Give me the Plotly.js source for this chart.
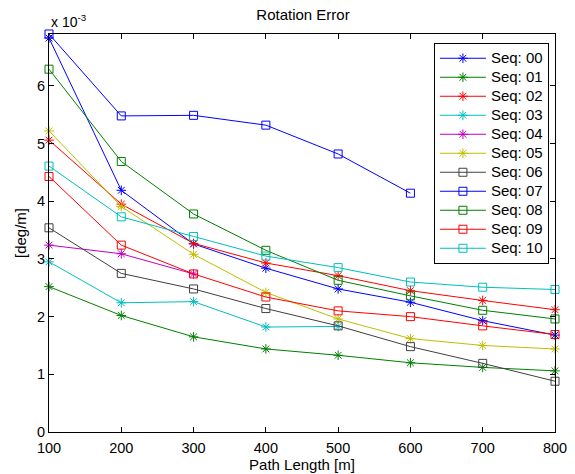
<!DOCTYPE html>
<html>
<head>
<meta charset="utf-8">
<script src="https://cdn.plot.ly/plotly-3.0.1.min.js"></script>
<style>html,body{margin:0;padding:0;background:#fff;}#chart{width:575px;height:474px;}</style>
</head>
<body>
<div id="chart"></div>
<script>
// Path lengths [m]
const pathLength = [100, 200, 300, 400, 500, 600, 700, 800];
// Rotation error values, in units of 1e-3 deg/m
const seq00 = [6.83, 4.19, 3.26, 2.84, 2.48, 2.25, 1.93, 1.68];
const seq01 = [2.52, 2.02, 1.65, 1.44, 1.33, 1.20, 1.12, 1.06];
const seq02 = [5.06, 3.95, 3.27, 2.93, 2.71, 2.45, 2.28, 2.12];
const seq03 = [2.95, 2.24, 2.26, 1.82, 1.83];
const seq04 = [3.24, 3.09, 2.74];
const seq05 = [5.22, 3.91, 3.08, 2.42, 1.96, 1.62, 1.50, 1.44];
const seq06 = [3.54, 2.75, 2.48, 2.14, 1.84, 1.48, 1.19, 0.88];
const seq07 = [6.90, 5.48, 5.49, 5.32, 4.82, 4.14];
const seq08 = [6.29, 4.69, 3.78, 3.15, 2.63, 2.36, 2.11, 1.96];
const seq09 = [4.43, 3.24, 2.74, 2.34, 2.10, 2.00, 1.84, 1.69];
const seq10 = [4.61, 3.73, 3.39, 3.05, 2.85, 2.60, 2.51, 2.47];
const seqNames = ['Seq: 00','Seq: 01','Seq: 02','Seq: 03','Seq: 04','Seq: 05','Seq: 06','Seq: 07','Seq: 08','Seq: 09','Seq: 10'];
const seqValues = [seq00, seq01, seq02, seq03, seq04, seq05, seq06, seq07, seq08, seq09, seq10];
const seqColors = ['#0000ff','#008000','#ff0000','#00bfbf','#bf00bf','#bfbf00','#404040','#0000ff','#008000','#ff0000','#00bfbf'];
const seqSymbols = ['asterisk-open','asterisk-open','asterisk-open','asterisk-open','asterisk-open','asterisk-open','square-open','square-open','square-open','square-open','square-open'];
const yTicks = [0, 1, 2, 3, 4, 5, 6];

const traces = seqValues.map((vals, i) => ({
  type: 'scatter',
  mode: 'lines+markers',
  name: '<span style="font-size:15px">' + seqNames[i] + '</span>',
  x: pathLength.slice(0, vals.length),
  y: vals,
  line: {color: seqColors[i], width: 1},
  marker: {symbol: seqSymbols[i], size: seqSymbols[i] === 'square-open' ? 8 : 8, color: seqColors[i], line: {color: seqColors[i], width: 1}},
  cliponaxis: false
}));

const fontFam = '"Liberation Sans", Arial, Helvetica, sans-serif';
const layout = {
  width: 575, height: 474,
  margin: {l: 49, r: 20, t: 34, b: 42},
  paper_bgcolor: '#ffffff', plot_bgcolor: '#ffffff',
  font: {family: fontFam, size: 14, color: '#000'},
  title: {text: 'Rotation Error', font: {family: fontFam, size: 15, color: '#000'}, x: 0.527, xanchor: 'center', y: 0.968, yanchor: 'middle'},
  xaxis: {
    range: [100, 800], tickvals: pathLength, ticktext: pathLength.map(String),
    ticks: 'inside', ticklen: 5, tickcolor: '#000', mirror: 'ticks', showline: true, linecolor: '#000', linewidth: 1,
    showgrid: false, zeroline: false, tickfont: {size: 14.5}, ticklabelstandoff: 3,
    title: {text: 'Path Length [m]', font: {size: 15}, standoff: 2}
  },
  yaxis: {
    range: [0, 6.9], tickvals: yTicks,
    ticks: 'inside', ticklen: 5, tickcolor: '#000', mirror: 'ticks', showline: true, linecolor: '#000', linewidth: 1,
    showgrid: false, zeroline: false, tickfont: {size: 14.5},
    title: {text: '[deg/m]', font: {size: 15}, standoff: 6}
  },
  legend: {
    x: 0.988, xanchor: 'right', y: 0.978, yanchor: 'top',
    bgcolor: '#ffffff', bordercolor: '#000', borderwidth: 1,
    font: {size: 12.3, family: fontFam}, itemwidth: 46, tracegroupgap: 0
  },
  annotations: [{
    xref: 'paper', yref: 'paper', x: 0, y: 1, xanchor: 'left', yanchor: 'bottom', yshift: 2,
    text: 'x 10<sup>-3</sup>', showarrow: false, font: {size: 14, family: fontFam}
  }]
};
Plotly.newPlot('chart', traces, layout, {displayModeBar: false, staticPlot: true});
</script>
</body>
</html>
